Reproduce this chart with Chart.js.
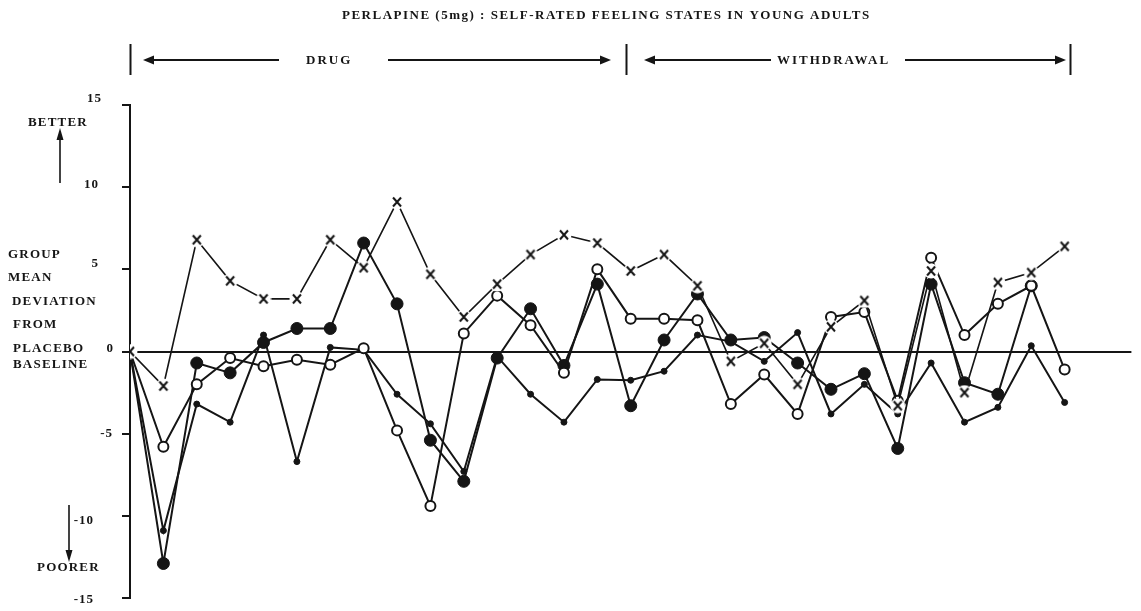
<!DOCTYPE html>
<html>
<head>
<meta charset="utf-8">
<script src="https://cdn.jsdelivr.net/npm/chart.js@4.4.1/dist/chart.umd.min.js"></script>
<style>
  html, body { margin: 0; padding: 0; background: #fff; overflow: hidden; }
  canvas { display: block; }
</style>
</head>
<body>
<canvas id="chart" width="1141" height="611"></canvas>
<script>
// session index along the x axis (0 = placebo baseline)
const sessions = [0, 1, 2, 3, 4, 5, 6, 7, 8, 9, 10, 11, 12, 13, 14, 15, 16, 17, 18, 19, 20, 21, 22, 23, 24, 25, 26, 27, 28];

// x  series
const crossVals = [0, -2.1, 6.8, 4.3, 3.2, 3.2, 6.8, 5.1, 9.1, 4.7, 2.1, 4.1, 5.9, 7.1, 6.6, 4.9, 5.9, 4.0, -0.6, 0.5, -2.0, 1.5, 3.1, -3.3, 4.9, -2.5, 4.2, 4.8, 6.4];
// open circles
const openVals = [0, -5.8, -2.0, -0.4, -0.9, -0.5, -0.8, 0.2, -4.8, -9.4, 1.1, 3.4, 1.6, -1.3, 5.0, 2.0, 2.0, 1.9, -3.2, -1.4, -3.8, 2.1, 2.4, -3.0, 5.7, 1.0, 2.9, 4.0, -1.1];
// large filled circles
const filledVals = [0, -12.9, -0.7, -1.3, 0.55, 1.4, 1.4, 6.6, 2.9, -5.4, -7.9, -0.4, 2.6, -0.85, 4.1, -3.3, 0.7, 3.5, 0.7, 0.85, -0.7, -2.3, -1.35, -5.9, 4.1, -1.9, -2.6, 4.0, null];
// small dots
const dotVals = [0, -10.9, -3.2, -4.3, 1.0, -6.7, 0.25, 0.1, -2.6, -4.4, -7.3, -0.3, -2.6, -4.3, -1.7, -1.75, -1.2, 1.0, 0.6, -0.6, 1.15, -3.8, -2.0, -3.8, -0.7, -4.3, -3.4, 0.35, -3.1];

const yTicks = [15, 10, 5, 0, -5, -10, -15];
const yTickLabels = ['15', '10', '5', '0', '-5', '-10', '-15'];
const titleText = 'PERLAPINE (5mg) : SELF-RATED FEELING STATES IN YOUNG ADULTS';
const phaseLabels = ['DRUG', 'WITHDRAWAL'];
const phaseEdges = [0, 14.85, 28.15];
const sideLabels = ['GROUP', 'MEAN', 'DEVIATION', 'FROM', 'PLACEBO', 'BASELINE'];

// hand-typed look: where each tick label sits (right edge x, dy from tick)
const tickLabelPos = [[102, -6], [99, -3], [99, -6], [114, -3], [113, 0], [94, 5], [94, 2]];

const INK = '#151515';
const SERIF = '"Liberation Serif", "DejaVu Serif", serif';
const AREA = { left: 130, right: 1135, top: 105, bottom: 598 };

const toPoints = vals => sessions.map((s, i) => ({ x: s, y: vals[i] }));

// X marker with a white halo so the line looks broken around it
const crossMarker = (() => {
    const c = document.createElement('canvas');
    c.width = 16; c.height = 16;
    const g = c.getContext('2d');
    g.fillStyle = '#fff';
    g.beginPath(); g.arc(8, 8, 7.5, 0, Math.PI * 2); g.fill();
    g.strokeStyle = INK; g.lineWidth = 2;
    g.beginPath();
    g.moveTo(4, 3.5); g.lineTo(12, 12.5);
    g.moveTo(12, 3.5); g.lineTo(4, 12.5);
    g.stroke();
    return c;
})();

const arrow = (ctx, x1, x2, y) => {
    const dir = x2 > x1 ? 1 : -1;
    ctx.beginPath();
    ctx.moveTo(x1, y);
    ctx.lineTo(x2 - dir * 8, y);
    ctx.stroke();
    ctx.beginPath();
    ctx.moveTo(x2, y);
    ctx.lineTo(x2 - dir * 11, y - 4.5);
    ctx.lineTo(x2 - dir * 11, y + 4.5);
    ctx.closePath();
    ctx.fill();
};

const vArrow = (ctx, x, y1, y2) => {
    const dir = y2 > y1 ? 1 : -1;
    ctx.beginPath();
    ctx.moveTo(x, y1);
    ctx.lineTo(x, y2 - dir * 6);
    ctx.stroke();
    ctx.beginPath();
    ctx.moveTo(x, y2);
    ctx.lineTo(x - 3.5, y2 - dir * 12);
    ctx.lineTo(x + 3.5, y2 - dir * 12);
    ctx.closePath();
    ctx.fill();
};

const decorations = {
    id: 'decorations',
    beforeDraw(chart) {
        const ctx = chart.ctx;
        ctx.save();
        ctx.fillStyle = '#fff';
        ctx.fillRect(0, 0, chart.width, chart.height);
        ctx.restore();
    },
    afterDraw(chart) {
        const ctx = chart.ctx;
        const xs = chart.scales.x;
        const ys = chart.scales.y;
        ctx.save();
        ctx.fillStyle = INK;
        ctx.strokeStyle = INK;
        ctx.textBaseline = 'middle';

        // title
        ctx.font = 'bold 13px ' + SERIF;
        ctx.letterSpacing = '1.5px';
        ctx.textAlign = 'left';
        ctx.fillText(titleText, 342, 16);

        // phase brackets and arrows
        ctx.lineWidth = 2;
        phaseEdges.forEach(v => {
            const px = Math.round(xs.getPixelForValue(v)) + 0.5;
            ctx.beginPath();
            ctx.moveTo(px, 44);
            ctx.lineTo(px, 75);
            ctx.stroke();
        });
        const arrowY = 60;
        ctx.letterSpacing = '2px';
        ctx.fillText(phaseLabels[0], 306, arrowY + 1);
        ctx.fillText(phaseLabels[1], 777, arrowY + 1);
        arrow(ctx, 279, 143, arrowY);
        arrow(ctx, 388, 611, arrowY);
        arrow(ctx, 771, 644, arrowY);
        arrow(ctx, 905, 1066, arrowY);

        // y tick labels, placed off the scale
        ctx.font = 'bold 13px ' + SERIF;
        ctx.letterSpacing = '1px';
        ctx.textAlign = 'right';
        yTicks.forEach((v, i) => {
            const [rx, dy] = tickLabelPos[i];
            ctx.fillText(yTickLabels[i], rx, ys.getPixelForValue(v) + dy);
        });

        // side labels
        ctx.textAlign = 'left';
        ctx.letterSpacing = '1.2px';
        ctx.fillText('BETTER', 28, 123);
        ctx.fillText('POORER', 37, 568);
        const sideY = [255, 278, 302, 325, 349, 365];
        const sideX = [8, 8, 12, 13, 13, 13];
        sideLabels.forEach((t, i) => ctx.fillText(t, sideX[i], sideY[i]));

        ctx.lineWidth = 1.6;
        vArrow(ctx, 60, 183, 128);
        vArrow(ctx, 69, 505, 562);
        ctx.restore();
    }
};

const chart = new Chart(document.getElementById('chart'), {
    type: 'line',
    data: {
        datasets: [
            {
                label: 'x',
                data: toPoints(crossVals),
                borderColor: INK,
                borderWidth: 1.6,
                pointStyle: crossMarker,
                pointRadius: 8
            },
            {
                label: 'open',
                data: toPoints(openVals),
                borderColor: INK,
                borderWidth: 2,
                pointStyle: 'circle',
                pointRadius: 5,
                pointBorderWidth: 2,
                pointBackgroundColor: '#fff',
                pointBorderColor: INK
            },
            {
                label: 'filled',
                data: toPoints(filledVals),
                borderColor: INK,
                borderWidth: 2,
                pointStyle: 'circle',
                pointRadius: 6,
                pointBorderWidth: 1,
                pointBackgroundColor: INK,
                pointBorderColor: INK
            },
            {
                label: 'dot',
                data: toPoints(dotVals),
                borderColor: INK,
                borderWidth: 2,
                pointStyle: 'circle',
                pointRadius: 3,
                pointBorderWidth: 1,
                pointBackgroundColor: INK,
                pointBorderColor: INK
            }
        ]
    },
    options: {
        responsive: false,
        animation: false,
        layout: { padding: { top: AREA.top, bottom: 611 - AREA.bottom, right: 1141 - AREA.right, left: 0 } },
        plugins: {
            legend: { display: false },
            tooltip: { enabled: false }
        },
        elements: { line: { tension: 0 } },
        scales: {
            x: {
                type: 'linear',
                min: 0,
                max: 30,
                display: false
            },
            y: {
                type: 'linear',
                min: -15,
                max: 15,
                afterFit(scale) { scale.width = AREA.left; },
                afterBuildTicks(scale) { scale.ticks = yTicks.map(v => ({ value: v })); },
                ticks: { display: false },
                border: { display: true, color: INK, width: 2 },
                grid: {
                    drawOnChartArea: true,
                    tickLength: 8,
                    tickWidth: 2,
                    tickColor: INK,
                    color: ctx => (ctx.tick && ctx.tick.value === 0 ? INK : 'rgba(0,0,0,0)'),
                    lineWidth: 2
                }
            }
        }
    },
    plugins: [decorations]
});

// nudge the layout padding until the plot area sits where the original does
for (let k = 0; k < 3; k++) {
    const a = chart.chartArea;
    const p = chart.config.options.layout.padding;
    p.top += AREA.top - a.top;
    p.bottom += a.bottom - AREA.bottom;
    p.right += a.right - AREA.right;
    chart.update();
}
</script>
</body>
</html>
